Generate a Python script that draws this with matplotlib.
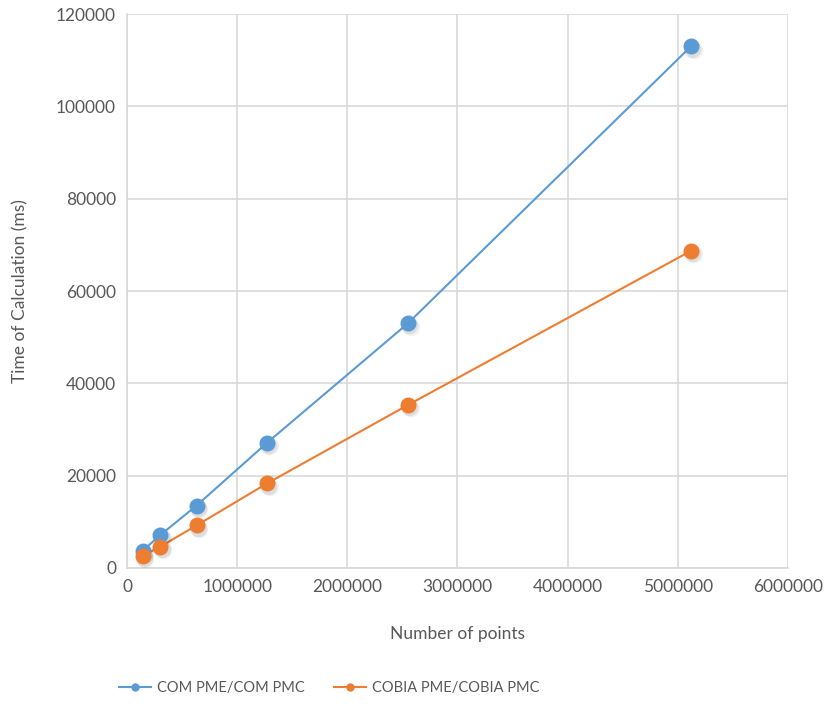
import matplotlib
matplotlib.use("Agg")
import matplotlib.pyplot as plt
import matplotlib.transforms as mtransforms
from matplotlib.lines import Line2D

# number of points on the x axis
points = [140000, 300000, 630000, 1270000, 2550000, 5120000]
# calculation times (ms)
com_times = [3700, 7100, 13500, 27100, 53000, 113000]
cobia_times = [2600, 4600, 9200, 18300, 35300, 68700]

series = [
    ("COM PME/COM PMC", com_times, "#5B9BD5"),
    ("COBIA PME/COBIA PMC", cobia_times, "#ED7D31"),
]

plt.rcParams["font.family"] = ["Lato", "DejaVu Sans"]
textColor = "#595959"
gridColor = "#D9D9D9"

fig = plt.figure(figsize=(8.31, 7.09), dpi=100)
ax = fig.add_axes([0.153, 0.199, 0.795, 0.781])

handles = []
for name, times, color in series:
    ax.plot(points, times, color=color, lw=1.5, zorder=3)
    # soft drop shadow under the markers
    for k, (dx, dy, a) in enumerate([(1.0, -1.5, 0.08), (2.0, -2.5, 0.06)]):
        shadowTrans = mtransforms.offset_copy(ax.transData, fig=fig, x=dx, y=dy, units="points")
        ax.plot(points, times, linestyle="none", marker="o", ms=12.5, color="#000000",
                alpha=a, mew=0, transform=shadowTrans, zorder=3.5)
    ax.plot(points, times, linestyle="none", marker="o", ms=11.5, color=color,
            mew=0, zorder=4)
    handles.append(Line2D([0], [0], color=color, lw=1.5, marker="o", ms=6, mew=0))

ax.set_xlim(0, 6000000)
ax.set_ylim(0, 120000)
ax.set_xticks(range(0, 6000001, 1000000))
ax.set_yticks(range(0, 120001, 20000))
ax.ticklabel_format(style="plain", useOffset=False)
ax.grid(True, color=gridColor, lw=1.2)
ax.set_axisbelow(True)
for side in ["top", "right"]:
    ax.spines[side].set_visible(False)
for side in ["left", "bottom"]:
    ax.spines[side].set_color(gridColor)
    ax.spines[side].set_linewidth(1.2)
ax.tick_params(length=0, labelsize=12.5, colors=textColor, pad=8)

ax.set_xlabel("Number of points", fontsize=12.5, color=textColor, labelpad=22)
ax.set_ylabel("Time of Calculation (ms)", fontsize=12.5, color=textColor, labelpad=20)

fig.legend(handles, [s[0] for s in series], loc="center", bbox_to_anchor=(0.396, 0.029),
           ncol=2, frameon=False, fontsize=10.5, labelcolor=textColor,
           handlelength=2.2, columnspacing=2.0, handletextpad=0.4)

fig.savefig("out.png", dpi=100)
